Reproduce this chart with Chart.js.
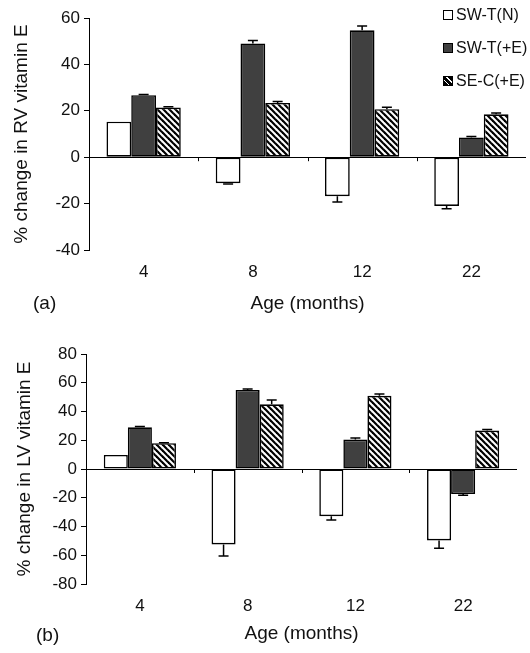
<!DOCTYPE html>
<html>
<head>
<meta charset="utf-8">
<script src="https://cdn.jsdelivr.net/npm/chart.js@4.4.0/dist/chart.umd.min.js"></script>
<style>
  body { margin: 0; background: #fff; font-family: "Liberation Sans", Arial, sans-serif; color: #111; }
  #wrap { position: relative; width: 530px; height: 653px; overflow: hidden; }
  canvas { position: absolute; left: 0; }
  #rv { top: 0; }
  #lv { top: 330px; }
  .panel { position: absolute; font-size: 19px; }
  .legend { position: absolute; left: 443px; font-size: 16px; white-space: nowrap; }
  .legend div { height: 33px; line-height: 16px; }
  .sw { display: inline-block; width: 10px; height: 10px; border: 1px solid #000; margin-right: 3px; vertical-align: 0px; box-sizing: border-box; }
</style>
</head>
<body>
<div id="wrap">
  <canvas id="rv" width="530" height="330"></canvas>
  <canvas id="lv" width="530" height="323"></canvas>
  <div class="panel" style="left:33px; top:292px;">(a)</div>
  <div class="panel" style="left:36px; top:624px;">(b)</div>
  <div class="legend" style="top:7px;">
    <div><span class="sw" style="background:#fff"></span>SW-T(N)</div>
    <div><span class="sw" style="background:#404040"></span>SW-T(+E)</div>
    <div><span class="sw" style="background:repeating-linear-gradient(45deg,#000 0 3px,#fff 3px 4px)"></span>SE-C(+E)</div>
  </div>
</div>
<script>
const ages = ["4", "8", "12", "22"];
const seriesNames = ["SW-T(N)", "SW-T(+E)", "SE-C(+E)"];

// (a) RV vitamin E, % change
const rvSwtN = [15.3, -11.2, -16.8, -21.0];
const rvSwtE = [26.7, 49.0, 54.7, 8.5];
const rvSecE = [21.4, 23.4, 20.7, 18.5];
const rvSwtNErr = [0, 0.4, 2.5, 1.2];
const rvSwtEErr = [0.3, 1.3, 1.8, 0.4];
const rvSecEErr = [0.3, 0.6, 0.8, 0.6];

// (b) LV vitamin E, % change
const lvSwtN = [9.8, -52.5, -32.8, -49.7];
const lvSwtE = [29.0, 55.0, 20.5, -17.4];
const lvSecE = [17.9, 45.0, 50.9, 26.7];
const lvSwtNErr = [0, 8.0, 2.7, 5.5];
const lvSwtEErr = [0.6, 0.6, 1.0, 0.8];
const lvSecEErr = [0.3, 3.0, 1.2, 0.8];

Chart.defaults.font.family = '"Liberation Sans", Arial, sans-serif';
Chart.defaults.color = "#111";

function hatch() {
  const c = document.createElement("canvas");
  c.width = 6; c.height = 6;
  const g = c.getContext("2d");
  g.fillStyle = "#fff";
  g.fillRect(0, 0, 6, 6);
  g.strokeStyle = "#000";
  g.lineWidth = 2.2;
  for (const o of [-6, 0, 6]) {
    g.beginPath();
    g.moveTo(o - 1, -1);
    g.lineTo(o + 7, 7);
    g.stroke();
  }
  return g.createPattern(c, "repeat");
}

// one-sided error bars + little separator ticks under the zero line
const errorBars = {
  id: "errorBars",
  afterDatasetsDraw(chart) {
    const { ctx, scales: { x, y } } = chart;
    ctx.save();
    ctx.strokeStyle = "#000";
    ctx.lineWidth = 1.5;
    chart.data.datasets.forEach((ds, i) => {
      chart.getDatasetMeta(i).data.forEach((bar, j) => {
        const v = ds.data[j], e = ds.errors[j];
        if (!e) return;
        const end = v >= 0 ? v + e : v - e;
        const y0 = y.getPixelForValue(v), y1 = y.getPixelForValue(end);
        ctx.beginPath();
        ctx.moveTo(bar.x, y0);
        ctx.lineTo(bar.x, y1);
        ctx.moveTo(bar.x - 5, y1);
        ctx.lineTo(bar.x + 5, y1);
        ctx.stroke();
      });
    });
    const zy = y.getPixelForValue(0);
    ctx.lineWidth = 1;
    ctx.beginPath();
    for (let k = 1; k < chart.data.labels.length; k++) {
      const px = Math.round((x.getPixelForValue(k - 1) + x.getPixelForValue(k)) / 2) + 0.5;
      ctx.moveTo(px, zy);
      ctx.lineTo(px, zy + 4);
    }
    ctx.stroke();
    ctx.restore();
  }
};

function makeChart(id, values, errors, yMin, yMax, yTitle, geo) {
  const fills = ["#fff", "#404040", hatch()];
  return new Chart(document.getElementById(id), {
    type: "bar",
    data: {
      labels: ages,
      datasets: seriesNames.map((name, i) => ({
        label: name,
        data: values[i],
        errors: errors[i],
        backgroundColor: fills[i],
        borderColor: "#000",
        borderWidth: 1.6,
        borderSkipped: false,
        categoryPercentage: geo.cat,
        barPercentage: 1
      }))
    },
    options: {
      responsive: false,
      animation: false,
      layout: { padding: { top: geo.top, right: geo.right, left: 0, bottom: 0 } },
      plugins: { legend: { display: false }, tooltip: { enabled: false } },
      scales: {
        x: {
          grid: { display: false, drawTicks: false },
          border: { display: false },
          ticks: { font: { size: 17 }, padding: geo.tickPad },
          title: { display: true, text: "Age (months)", font: { size: 19 }, padding: { top: 0, bottom: geo.titlePad } },
          afterFit(s) { s.height = geo.xh; }
        },
        y: {
          min: yMin,
          max: yMax,
          ticks: { stepSize: 20, font: { size: 17 }, padding: 4 },
          grid: {
            color: c => (c.tick && c.tick.value === 0 ? "#000" : "rgba(0,0,0,0)"),
            tickColor: "#000",
            tickLength: 5
          },
          border: { display: true, color: "#000" },
          title: { display: true, text: yTitle, font: { size: 19 }, padding: { top: geo.yTitlePad, bottom: 0 } },
          afterFit(s) { s.width = geo.yw; }
        }
      }
    },
    plugins: [errorBars]
  });
}

makeChart("rv",
  [rvSwtN, rvSwtE, rvSecE],
  [rvSwtNErr, rvSwtEErr, rvSecEErr],
  -40, 60, "% change in RV vitamin E",
  { top: 18, right: 4, yw: 89, xh: 80, cat: 0.68, tickPad: 12, titlePad: 15, yTitlePad: 10 });

makeChart("lv",
  [lvSwtN, lvSwtE, lvSecE],
  [lvSwtNErr, lvSwtEErr, lvSecEErr],
  -80, 80, "% change in LV vitamin E",
  { top: 24, right: 13, yw: 86, xh: 69, cat: 0.67, tickPad: 12, titlePad: 8, yTitlePad: 13 });
</script>
</body>
</html>
